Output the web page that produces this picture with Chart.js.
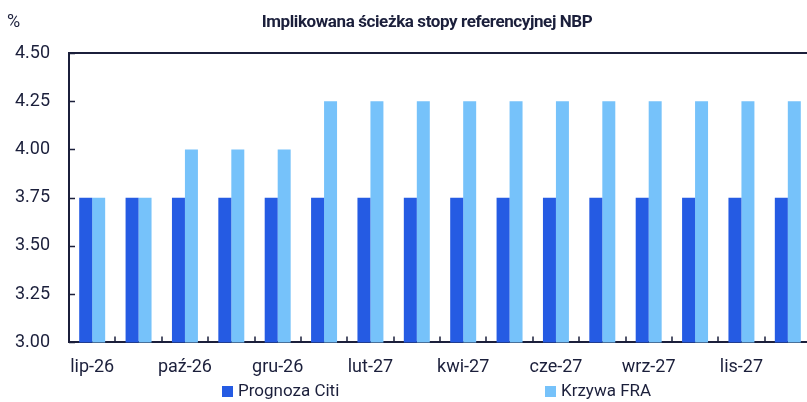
<!DOCTYPE html>
<html lang="pl">
<head>
    <meta charset="UTF-8">
    <title>Implikowana ścieżka stopy referencyjnej NBP</title>
    <script src="https://cdn.jsdelivr.net/npm/chart.js"></script>
    <style>
        body {
            margin: 0;
            background: #ffffff;
            overflow: hidden;
        }
        .chart-box {
            width: 854px;
            height: 402px;
        }
    </style>
</head>
<body>
    <div class="chart-box">
        <canvas id="rateChart"></canvas>
    </div>
    <script>
        const categories = ['lip-26', 'wrz-26', 'paź-26', 'lis-26', 'gru-26', 'sty-27', 'lut-27', 'mar-27',
                            'kwi-27', 'maj-27', 'cze-27', 'lip-27', 'wrz-27', 'paź-27', 'lis-27', 'gru-27'];
        const citiForecast = [3.75, 3.75, 3.75, 3.75, 3.75, 3.75, 3.75, 3.75,
                              3.75, 3.75, 3.75, 3.75, 3.75, 3.75, 3.75, 3.75];
        const fraCurve = [3.75, 3.75, 4.00, 4.00, 4.00, 4.25, 4.25, 4.25,
                          4.25, 4.25, 4.25, 4.25, 4.25, 4.25, 4.25, 4.25];
        const seriesNames = ['Prognoza Citi', 'Krzywa FRA'];
        const chartTitle = 'Implikowana ścieżka stopy referencyjnej NBP';
        const yMin = 3.00, yMax = 4.50, yStep = 0.25;

        const ink = '#1b1f3b';
        const darkBlue = '#255be3';
        const lightBlue = '#76c2fa';

        // title, axis frame, inner tick marks, "%" unit and the two-column legend
        const framePlugin = {
            id: 'frame',
            afterDraw(chart) {
                const ctx = chart.ctx;
                const area = chart.chartArea;
                const x = chart.scales.x;
                const y = chart.scales.y;
                ctx.save();
                ctx.strokeStyle = ink;
                ctx.lineWidth = 2;
                ctx.beginPath();
                ctx.moveTo(area.left - 1, area.top);
                ctx.lineTo(area.right, area.top);
                ctx.stroke();

                ctx.beginPath();
                y.ticks.forEach(t => {
                    const py = Math.round(y.getPixelForValue(t.value)) + 0.5;
                    ctx.moveTo(area.left, py);
                    ctx.lineTo(area.left + 6, py);
                });
                for (let i = 1; i <= categories.length; i++) {
                    const px = Math.round(x.getPixelForValue(i - 0.5));
                    ctx.moveTo(px, area.bottom);
                    ctx.lineTo(px, area.bottom - 6);
                }
                ctx.lineWidth = 1.5;
                ctx.stroke();

                ctx.fillStyle = ink;
                ctx.textBaseline = 'middle';
                ctx.textAlign = 'center';
                ctx.font = 'bold 17px Roboto';
                ctx.letterSpacing = '-0.4px';
                ctx.fillText(chartTitle, 427, 23);
                ctx.letterSpacing = '0px';

                ctx.textAlign = 'left';
                ctx.font = '18px Roboto';
                ctx.fillText('%', 7, 22);

                const legendX = [222, 545];
                const legendY = 391;
                chart.data.datasets.forEach((ds, i) => {
                    ctx.fillStyle = ds.backgroundColor;
                    ctx.fillRect(legendX[i], legendY - 5, 11, 11);
                    ctx.fillStyle = ink;
                    ctx.font = '17px Roboto';
                    ctx.fillText(ds.label, legendX[i] + 16, legendY + 1);
                });
                ctx.restore();
            }
        };

        new Chart(document.getElementById('rateChart'), {
            type: 'bar',
            data: {
                labels: categories,
                datasets: [
                    {
                        label: seriesNames[0],
                        data: citiForecast,
                        backgroundColor: darkBlue,
                        barPercentage: 1,
                        categoryPercentage: 0.56
                    },
                    {
                        label: seriesNames[1],
                        data: fraCurve,
                        backgroundColor: lightBlue,
                        barPercentage: 1,
                        categoryPercentage: 0.56
                    }
                ]
            },
            options: {
                responsive: true,
                maintainAspectRatio: false,
                animation: false,
                layout: {
                    padding: { left: 0, right: 43, top: 53, bottom: 10 }
                },
                plugins: {
                    legend: { display: false },
                    tooltip: { enabled: false },
                    title: { display: false }
                },
                scales: {
                    x: {
                        grid: { display: false, drawTicks: false },
                        border: { display: true, color: ink, width: 2 },
                        ticks: {
                            autoSkip: false,
                            maxRotation: 0,
                            padding: 14,
                            color: ink,
                            font: { family: 'Roboto', size: 18 },
                            callback: (val, i) => i % 2 === 0 ? categories[i] : ''
                        }
                    },
                    y: {
                        min: yMin,
                        max: yMax,
                        grid: { display: false, drawTicks: false },
                        border: { display: true, color: ink, width: 2 },
                        afterFit: scale => { scale.width = 69; },
                        ticks: {
                            stepSize: yStep,
                            padding: 19,
                            color: ink,
                            font: { family: 'Roboto', size: 18 },
                            callback: v => v.toFixed(2)
                        }
                    }
                }
            },
            plugins: [framePlugin]
        });
    </script>
</body>
</html>
